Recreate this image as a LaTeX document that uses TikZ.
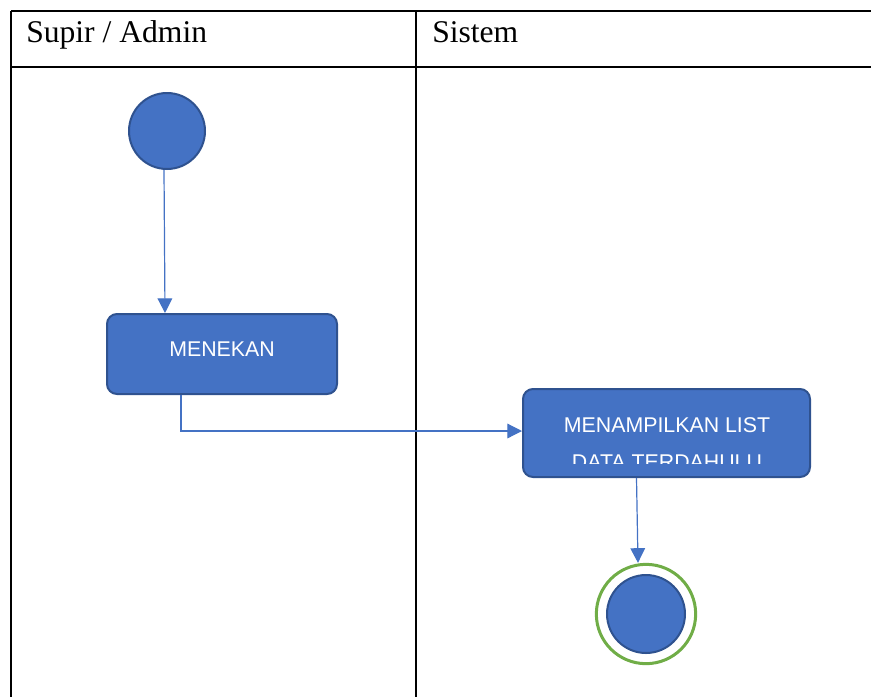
\documentclass[tikz,border=0pt]{standalone}
\usepackage{fontspec}
\setmainfont{Liberation Serif}
\newfontfamily\boxfont{Liberation Sans}
\usetikzlibrary{arrows.meta,calc}
\definecolor{actblue}{HTML}{4472C4}
\definecolor{actedge}{HTML}{2F528F}
\definecolor{endgreen}{HTML}{70AD47}
\tikzset{
  lane/.style={draw=black,line width=0.9pt},
  lanehead/.style={anchor=base west,inner sep=0pt,font=\fontsize{23.7pt}{28pt}\selectfont},
  actbox/.style={draw=actedge,fill=actblue,line width=1.5pt,rounded corners=7.5pt,inner sep=0pt},
  acttext/.style={inner sep=0pt,text=white,font=\boxfont\fontsize{16pt}{19pt}\selectfont},
  startdot/.style={circle,draw=actedge,fill=actblue,line width=1.5pt,inner sep=0pt,minimum size=57pt},
  flow/.style={draw=actblue,line width=0.9pt,-{Triangle[length=11pt,width=11pt]}}
}
\begin{document}
\begin{tikzpicture}[x=0.75pt,y=-0.75pt]
\useasboundingbox (0,0) rectangle (871,697);
% swimlane table
\draw[lane] (11,11) -- (871,11);
\draw[lane] (11,67) -- (871,67);
\draw[lane] (11,11) -- (11,697);
\draw[lane] (416,11) -- (416,697);
\node[lanehead] (h1) at (26,42) {Supir / Admin};
\node[lanehead] (h2) at (432,42) {Sistem};
% start
\node[startdot] (start) at (167,131) {};
% box 1
\node[actbox,minimum width=172.5pt,minimum height=60pt] (b1) at (222,354) {};
\node[acttext] (t1) at (222,349) {MENEKAN};
% box 2
\node[actbox,minimum width=215.25pt,minimum height=66pt] (b2) at (666.5,433) {};
\node[acttext,anchor=base] (t2) at (667,432) {MENAMPILKAN LIST};
\begin{scope}
\clip (524,390) rectangle (809,463);
\node[acttext,anchor=base] (t3) at (667,469) {DATA TERDAHULU};
\end{scope}
% end
\node[circle,draw=endgreen,line width=2.25pt,inner sep=0pt,minimum size=74.5pt] (endo) at (646,614) {};
\node[startdot,minimum size=58.5pt] (endi) at (646,614) {};
% flows
\draw[flow] ($(start.south)+(-3,0)$) -- ($(start.south |- b1.north)+(-2,0)$);
\draw[flow] ($(b1.south)+(-41,0)$) |- ($(b2.west)+(0,-2)$);
\draw[flow] ($(b2.south)+(-30,0)$) -- ($(endo.north)+(-8,0)$);
\end{tikzpicture}
\end{document}
